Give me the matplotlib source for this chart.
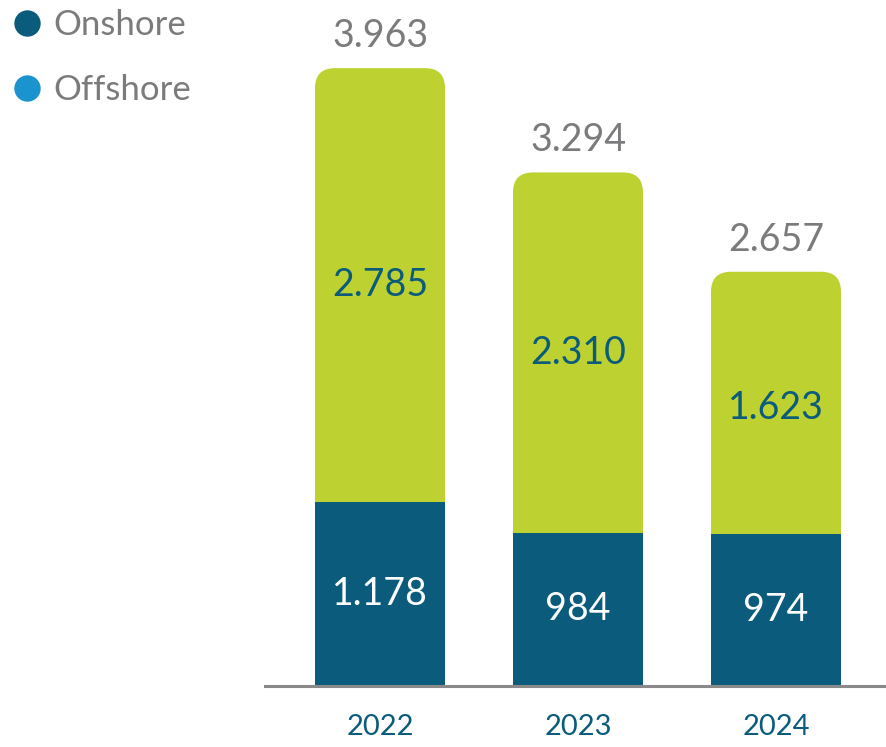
import matplotlib
matplotlib.use("Agg")
import matplotlib.pyplot as plt
from matplotlib.patches import FancyBboxPatch
from matplotlib.lines import Line2D

years = ["2022", "2023", "2024"]
onshore = [1178, 984, 974]
offshore = [2785, 2310, 1623]
totals = [3963, 3294, 2657]
onshore_lbl = ["1.178", "984", "974"]
offshore_lbl = ["2.785", "2.310", "1.623"]
total_lbl = ["3.963", "3.294", "2.657"]

C_ON = "#0a5b7c"
C_OFF = "#bdd131"
C_LEG_OFF = "#1b93cf"
C_GREY = "#7b7b7d"
C_AXIS = "#8a8a8a"

plt.rcParams["font.family"] = ["Lato", "DejaVu Sans"]

W, H = 886, 747
fig = plt.figure(figsize=(W / 100, H / 100), dpi=100)
ax_left, ax_right, ax_bottom = 265 / W, 1.0, 1 - 686 / H
ax = fig.add_axes([ax_left, ax_bottom, ax_right - ax_left, 1 - ax_bottom])

x = list(range(len(years)))
px_per_x = 198.0
xlim = (-(380 - 265) / px_per_x, (886 - 380) / px_per_x)
ymax = 4400
ax.set_xlim(*xlim)
ax.set_ylim(0, ymax)
px_per_y = 686.0 / ymax
bw = 130 / px_per_x

for i in range(len(years)):
    r = 20 / px_per_x
    p = FancyBboxPatch((x[i] - bw / 2 + r, r * px_per_x / px_per_y),
                       bw - 2 * r, totals[i] - 2 * r * px_per_x / px_per_y,
                       boxstyle=f"round,pad={r},rounding_size={r}",
                       mutation_aspect=px_per_x / px_per_y,
                       facecolor=C_OFF, edgecolor="none", zorder=2)
    ax.add_patch(p)
ax.bar(x, onshore, width=bw, color=C_ON, zorder=3)

for i in range(len(years)):
    ax.text(x[i], onshore[i] / 2, onshore_lbl[i], ha="center", va="center",
            color="white", fontsize=27, zorder=4)
    ax.text(x[i], onshore[i] + offshore[i] / 2, offshore_lbl[i], ha="center",
            va="center", color=C_ON, fontsize=27, zorder=4)
    ax.text(x[i], totals[i] + 32 / px_per_y, total_lbl[i], ha="center",
            va="center", color=C_GREY, fontsize=27, zorder=4)

ax.set_xticks(x)
ax.set_xticklabels(years, color=C_ON, fontsize=21)
ax.tick_params(axis="x", length=0, pad=20)
ax.set_yticks([])
for s in ["top", "right", "left"]:
    ax.spines[s].set_visible(False)
ax.spines["bottom"].set_color(C_AXIS)
ax.spines["bottom"].set_linewidth(2.2)
ax.spines["bottom"].set_zorder(5)

handles = [
    Line2D([], [], marker="o", linestyle="none", markersize=19,
           markerfacecolor=C_ON, markeredgecolor="none", label="Onshore"),
    Line2D([], [], marker="o", linestyle="none", markersize=19,
           markerfacecolor=C_LEG_OFF, markeredgecolor="none", label="Offshore"),
]
fig.legend(handles=handles, loc="upper left", bbox_to_anchor=(-0.024, 1.03),
           bbox_transform=fig.transFigure, frameon=False, fontsize=25,
           labelcolor=C_GREY, labelspacing=0.95, handletextpad=0.25,
           handlelength=1.0)

fig.savefig("out.png", dpi=100)
